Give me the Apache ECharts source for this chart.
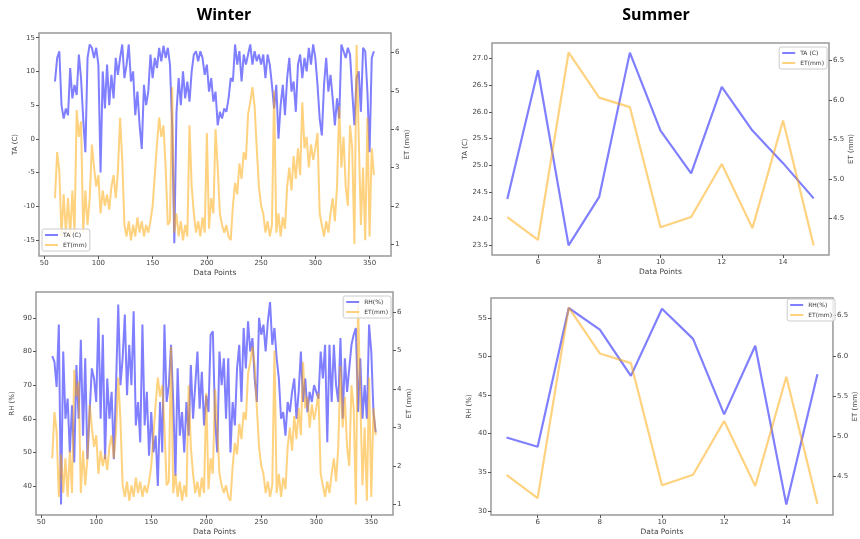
<!DOCTYPE html>
<html>
<head>
<meta charset="utf-8">
<script src="https://cdn.jsdelivr.net/npm/echarts@6/dist/echarts.min.js"></script>
<style>
    html, body { margin: 0; padding: 0; background: #fff; }
    #chart { width: 860px; height: 539px; }
</style>
</head>
<body>
<div id="chart"></div>
<script>
// winter: one value every 2 data points, x = 60, 62, ... 354
let winterStart = 60;
let winterStep = 2;

let winterTA = [
    8.5, 12, 13, 5, 3, 4.5, 3.5, 10.5, 6, 8,
    6.5, 12.5, 9, 3, -2, 12, 14, 13.5, 12, 13.5,
    11, -5, 10, 4.5, 11, 5, 9.5, 6, 12, 9.5,
    12, 14, 9, 11, 14, 8.5, 10, 3.5, 7, 2,
    -1.5, 8, 5, 7, 12.5, 9, 12, 10.5, 13.5, 11.5,
    13.8, 12, 13.5, 11, 2, -15.5, 4, 9, 5, 10,
    6, 8.5, 5.5, 10, 12.5, 13, 11.5, 13, 12, 9.5,
    11, 7, 9, 5.5, 7, 2, 4, 3, 4.5, 4,
    6, 9, 8.5, 14, 11, 13, 8.5, 12.5, 11, 12.5,
    14, 11, 13, 11.5, 12.5, 11, 12.5, 9, 12.5, 11,
    8, 4.5, 8, 0, 5, 8, 3.5, 9, 12, 7,
    8.5, 4, 11, 12.5, 9, 12, 10, 13.5, 11, 14,
    12, 8, 3, 0.5, 8, 12, 7, 9.5, 6, 2,
    6, 3, 14, 13, 12, 13.5, 12.5, 7, 2, 9,
    10, 4, 13.5, 13, 7, -2, 12, 13
];

let winterET = [
    2.2, 3.4, 2.9, 1.2, 2.3, 1.3, 2.2, 1.2, 2.4, 1.3,
    4.5, 3.8, 4.2, 1.3, 2.4, 1.5, 2.2, 3.6, 3.0, 2.5,
    2.8, 1.8, 2.4, 2.0, 2.3, 1.9, 2.5, 2.8, 2.2, 2.9,
    4.3, 3.2, 1.5, 1.2, 1.6, 1.1, 1.5, 1.2, 1.7, 1.3,
    1.6, 1.2, 1.5, 1.3, 1.6, 2.0, 2.8, 3.6, 4.3, 3.8,
    4.1, 3.0, 1.5, 1.6, 5.1, 1.3, 1.8, 1.2, 1.6, 1.1,
    1.5, 1.2, 4.1, 2.5, 1.8, 1.3, 1.6, 1.2, 1.7, 1.3,
    3.9, 1.4, 2.2, 1.8, 4.0, 3.0, 1.8, 1.5, 1.3, 1.5,
    1.2, 1.1, 2.0, 2.6, 2.3, 3.1, 2.7, 3.4, 3.2, 4.4,
    4.7, 5.1, 4.6, 3.5, 2.5, 2.0, 1.8, 1.3, 1.6, 1.2,
    1.5, 5.0, 1.3, 1.8, 1.2, 1.7, 1.4, 2.5, 3.0, 2.4,
    3.3, 2.7, 3.5, 2.8, 4.7, 3.5, 3.8, 3.0, 3.6, 3.2,
    3.5, 3.9, 1.8, 1.5, 1.2, 1.6, 1.3, 1.8, 2.2, 1.6,
    2.5, 4.6, 3.0, 3.8, 2.5, 2.0, 4.1, 3.5, 1.0, 6.2,
    3.8, 1.5, 3.0, 1.1, 4.3, 1.2, 3.5, 2.8
];

let winterRH = [
    78.6, 77, 69.5, 88, 34.5, 80, 60, 66, 50, 64,
    47, 76, 60, 83.5, 55, 78, 48, 62, 75, 72,
    65, 90, 60, 85, 48, 72, 60, 68, 48, 70,
    94, 70, 78, 91, 67, 82, 70, 92, 58, 65,
    53, 88, 58, 68, 49, 62, 50, 55, 40, 65,
    50, 88, 65, 70, 82, 65, 43, 75, 55, 62,
    50, 65, 55, 76, 60, 70, 80, 63, 74, 58,
    67, 62, 85, 86, 60, 50, 80, 70, 78, 60,
    78, 50, 65, 58, 75, 82, 65, 87, 75, 89,
    80, 84, 72, 65, 90, 85, 88, 80, 89, 94.7,
    82, 87, 78, 72, 60, 62, 55, 65, 62, 68,
    72, 60, 68, 80, 65, 72, 62, 68, 65, 70,
    68, 66, 80, 72, 82, 53, 82, 65, 82, 70,
    65, 84, 60, 78, 68, 75, 82, 85, 87, 62,
    78, 60, 70, 60, 88, 80, 62, 56
];

// summer: data points 5..15
let summerX = [5, 6, 7, 8, 9, 10, 11, 12, 13, 14, 15];
let summerTA = [24.37, 26.78, 23.5, 24.41, 27.11, 25.65, 24.85, 26.47, 25.65, 25.04, 24.38];
let summerET = [4.52, 4.23, 6.6, 6.03, 5.91, 4.39, 4.52, 5.19, 4.38, 5.74, 4.16];
let summerRH = [39.5, 38.3, 56.3, 53.5, 47.5, 56.2, 52.3, 42.5, 51.4, 30.8, 47.7];

// tick labels
let winterXTicks = [50, 100, 150, 200, 250, 300, 350];
let winterTATicks = [-15, -10, -5, 0, 5, 10, 15];
let winterRHTicks = [40, 50, 60, 70, 80, 90];
let winterETTicks = [1, 2, 3, 4, 5, 6];
let summerXTicks = [6, 8, 10, 12, 14];
let summerTATicks = [23.5, 24.0, 24.5, 25.0, 25.5, 26.0, 26.5, 27.0];
let summerRHTicks = [30, 35, 40, 45, 50, 55];
let summerETTicks = [4.5, 5.0, 5.5, 6.0, 6.5];

let winterX = winterTA.map((v, i) => winterStart + i * winterStep);
function pairs(xs, ys) {
    return xs.map((x, i) => [x, ys[i]]);
}

const BLUE = 'rgba(0, 0, 255, 0.5)';
const ORANGE = 'rgba(255, 165, 0, 0.5)';
const FONT = 'DejaVu Sans';

function xAxisFor(grid, min, max, ticks) {
    return {
        type: 'value', gridIndex: grid, min: min, max: max,
        name: 'Data Points', nameLocation: 'middle', nameGap: 13,
        nameTextStyle: { fontSize: 7.5, color: '#444', fontFamily: FONT },
        axisLine: { show: false, onZero: false },
        axisTick: { show: true, length: 3, customValues: ticks, lineStyle: { color: '#555' } },
        axisLabel: { customValues: ticks, fontSize: 7, color: '#444', margin: 4, fontFamily: FONT },
        splitLine: { show: false }
    };
}

function yAxisFor(grid, pos, min, max, ticks, name, gap, digits) {
    return {
        type: 'value', gridIndex: grid, position: pos, min: min, max: max,
        name: name, nameLocation: 'middle', nameGap: gap, nameRotate: 90,
        nameTextStyle: { fontSize: 7, color: '#444', fontFamily: FONT },
        axisLine: { show: false, onZero: false },
        axisTick: { show: true, length: 3, customValues: ticks, lineStyle: { color: '#555' } },
        axisLabel: {
            customValues: ticks, fontSize: 7, color: '#444', margin: 4, fontFamily: FONT,
            formatter: v => digits ? Number(v).toFixed(digits) : String(v)
        },
        splitLine: { show: false }
    };
}

function lineSeries(name, color, xi, yi, data, width) {
    return {
        name: name, type: 'line', xAxisIndex: xi, yAxisIndex: yi,
        data: data, symbol: 'none', silent: true,
        lineStyle: { color: color, width: width },
        itemStyle: { color: color }
    };
}

function legendFor(names, pos) {
    return Object.assign({
        data: names, orient: 'vertical', icon: 'rect',
        itemWidth: 13, itemHeight: 2, itemGap: 4,
        padding: [3, 3, 3, 3],
        borderColor: '#ccc', borderWidth: 1, borderRadius: 2,
        backgroundColor: 'rgba(255,255,255,0.8)',
        textStyle: { fontSize: 6, color: '#333', fontFamily: FONT },
        selectedMode: false
    }, pos);
}

let chart = echarts.init(document.getElementById('chart'));

let option = {
    backgroundColor: '#fff',
    animation: false,
    title: [
        { text: 'Winter', left: 219, top: 2, textAlign: 'center',
          textStyle: { fontSize: 16, fontWeight: 'bold', color: '#000', fontFamily: 'Open Sans' } },
        { text: 'Summer', left: 651, top: 2, textAlign: 'center',
          textStyle: { fontSize: 16, fontWeight: 'bold', color: '#000', fontFamily: 'Open Sans' } }
    ],
    grid: [
        { left: 39, top: 33, width: 352, height: 223, show: true, borderColor: '#999', borderWidth: 1.5 },
        { left: 492, top: 43, width: 337, height: 212, show: true, borderColor: '#999', borderWidth: 1.5 },
        { left: 36, top: 292, width: 357, height: 223, show: true, borderColor: '#999', borderWidth: 1.5 },
        { left: 491, top: 298, width: 346, height: 217, show: true, borderColor: '#999', borderWidth: 1.5 }
    ],
    xAxis: [
        xAxisFor(0, 45.25, 369.75, winterXTicks),
        xAxisFor(1, 4.5, 15.5, summerXTicks),
        xAxisFor(2, 45.25, 369.75, winterXTicks),
        xAxisFor(3, 4.5, 15.5, summerXTicks)
    ],
    yAxis: [
        yAxisFor(0, 'left', -17.4, 15.7, winterTATicks, 'TA (C)', 20, 0),
        yAxisFor(0, 'right', 0.69, 6.51, winterETTicks, 'ET (mm)', 12, 0),
        yAxisFor(1, 'left', 23.32, 27.29, summerTATicks, 'TA (C)', 22, 1),
        yAxisFor(1, 'right', 4.04, 6.72, summerETTicks, 'ET (mm)', 17, 1),
        yAxisFor(2, 'left', 31.4, 97.7, winterRHTicks, 'RH (%)', 20, 0),
        yAxisFor(2, 'right', 0.73, 6.52, winterETTicks, 'ET (mm)', 12, 0),
        yAxisFor(3, 'left', 29.45, 57.6, summerRHTicks, 'RH (%)', 18, 0),
        yAxisFor(3, 'right', 4.02, 6.72, summerETTicks, 'ET (mm)', 18, 1)
    ],
    legend: [
        legendFor(['TA (C)', 'ET(mm)'], { left: 42, top: 229 }),
        legendFor(['TA (C)', 'ET(mm)'], { right: 33, top: 47 }),
        legendFor(['RH(%)', 'ET(mm)'], { right: 469, top: 296 }),
        legendFor(['RH(%)', 'ET(mm)'], { right: 25, top: 299 })
    ],
    series: [
        lineSeries('TA (C)', BLUE, 0, 0, pairs(winterX, winterTA), 2),
        lineSeries('ET(mm)', ORANGE, 0, 1, pairs(winterX, winterET), 2),
        lineSeries('TA (C)', BLUE, 1, 2, pairs(summerX, summerTA), 2.2),
        lineSeries('ET(mm)', ORANGE, 1, 3, pairs(summerX, summerET), 2.2),
        lineSeries('RH(%)', BLUE, 2, 4, pairs(winterX, winterRH), 2),
        lineSeries('ET(mm)', ORANGE, 2, 5, pairs(winterX, winterET), 2),
        lineSeries('RH(%)', BLUE, 3, 6, pairs(summerX, summerRH), 2.2),
        lineSeries('ET(mm)', ORANGE, 3, 7, pairs(summerX, summerET), 2.2)
    ]
};

chart.setOption(option);
</script>
</body>
</html>
